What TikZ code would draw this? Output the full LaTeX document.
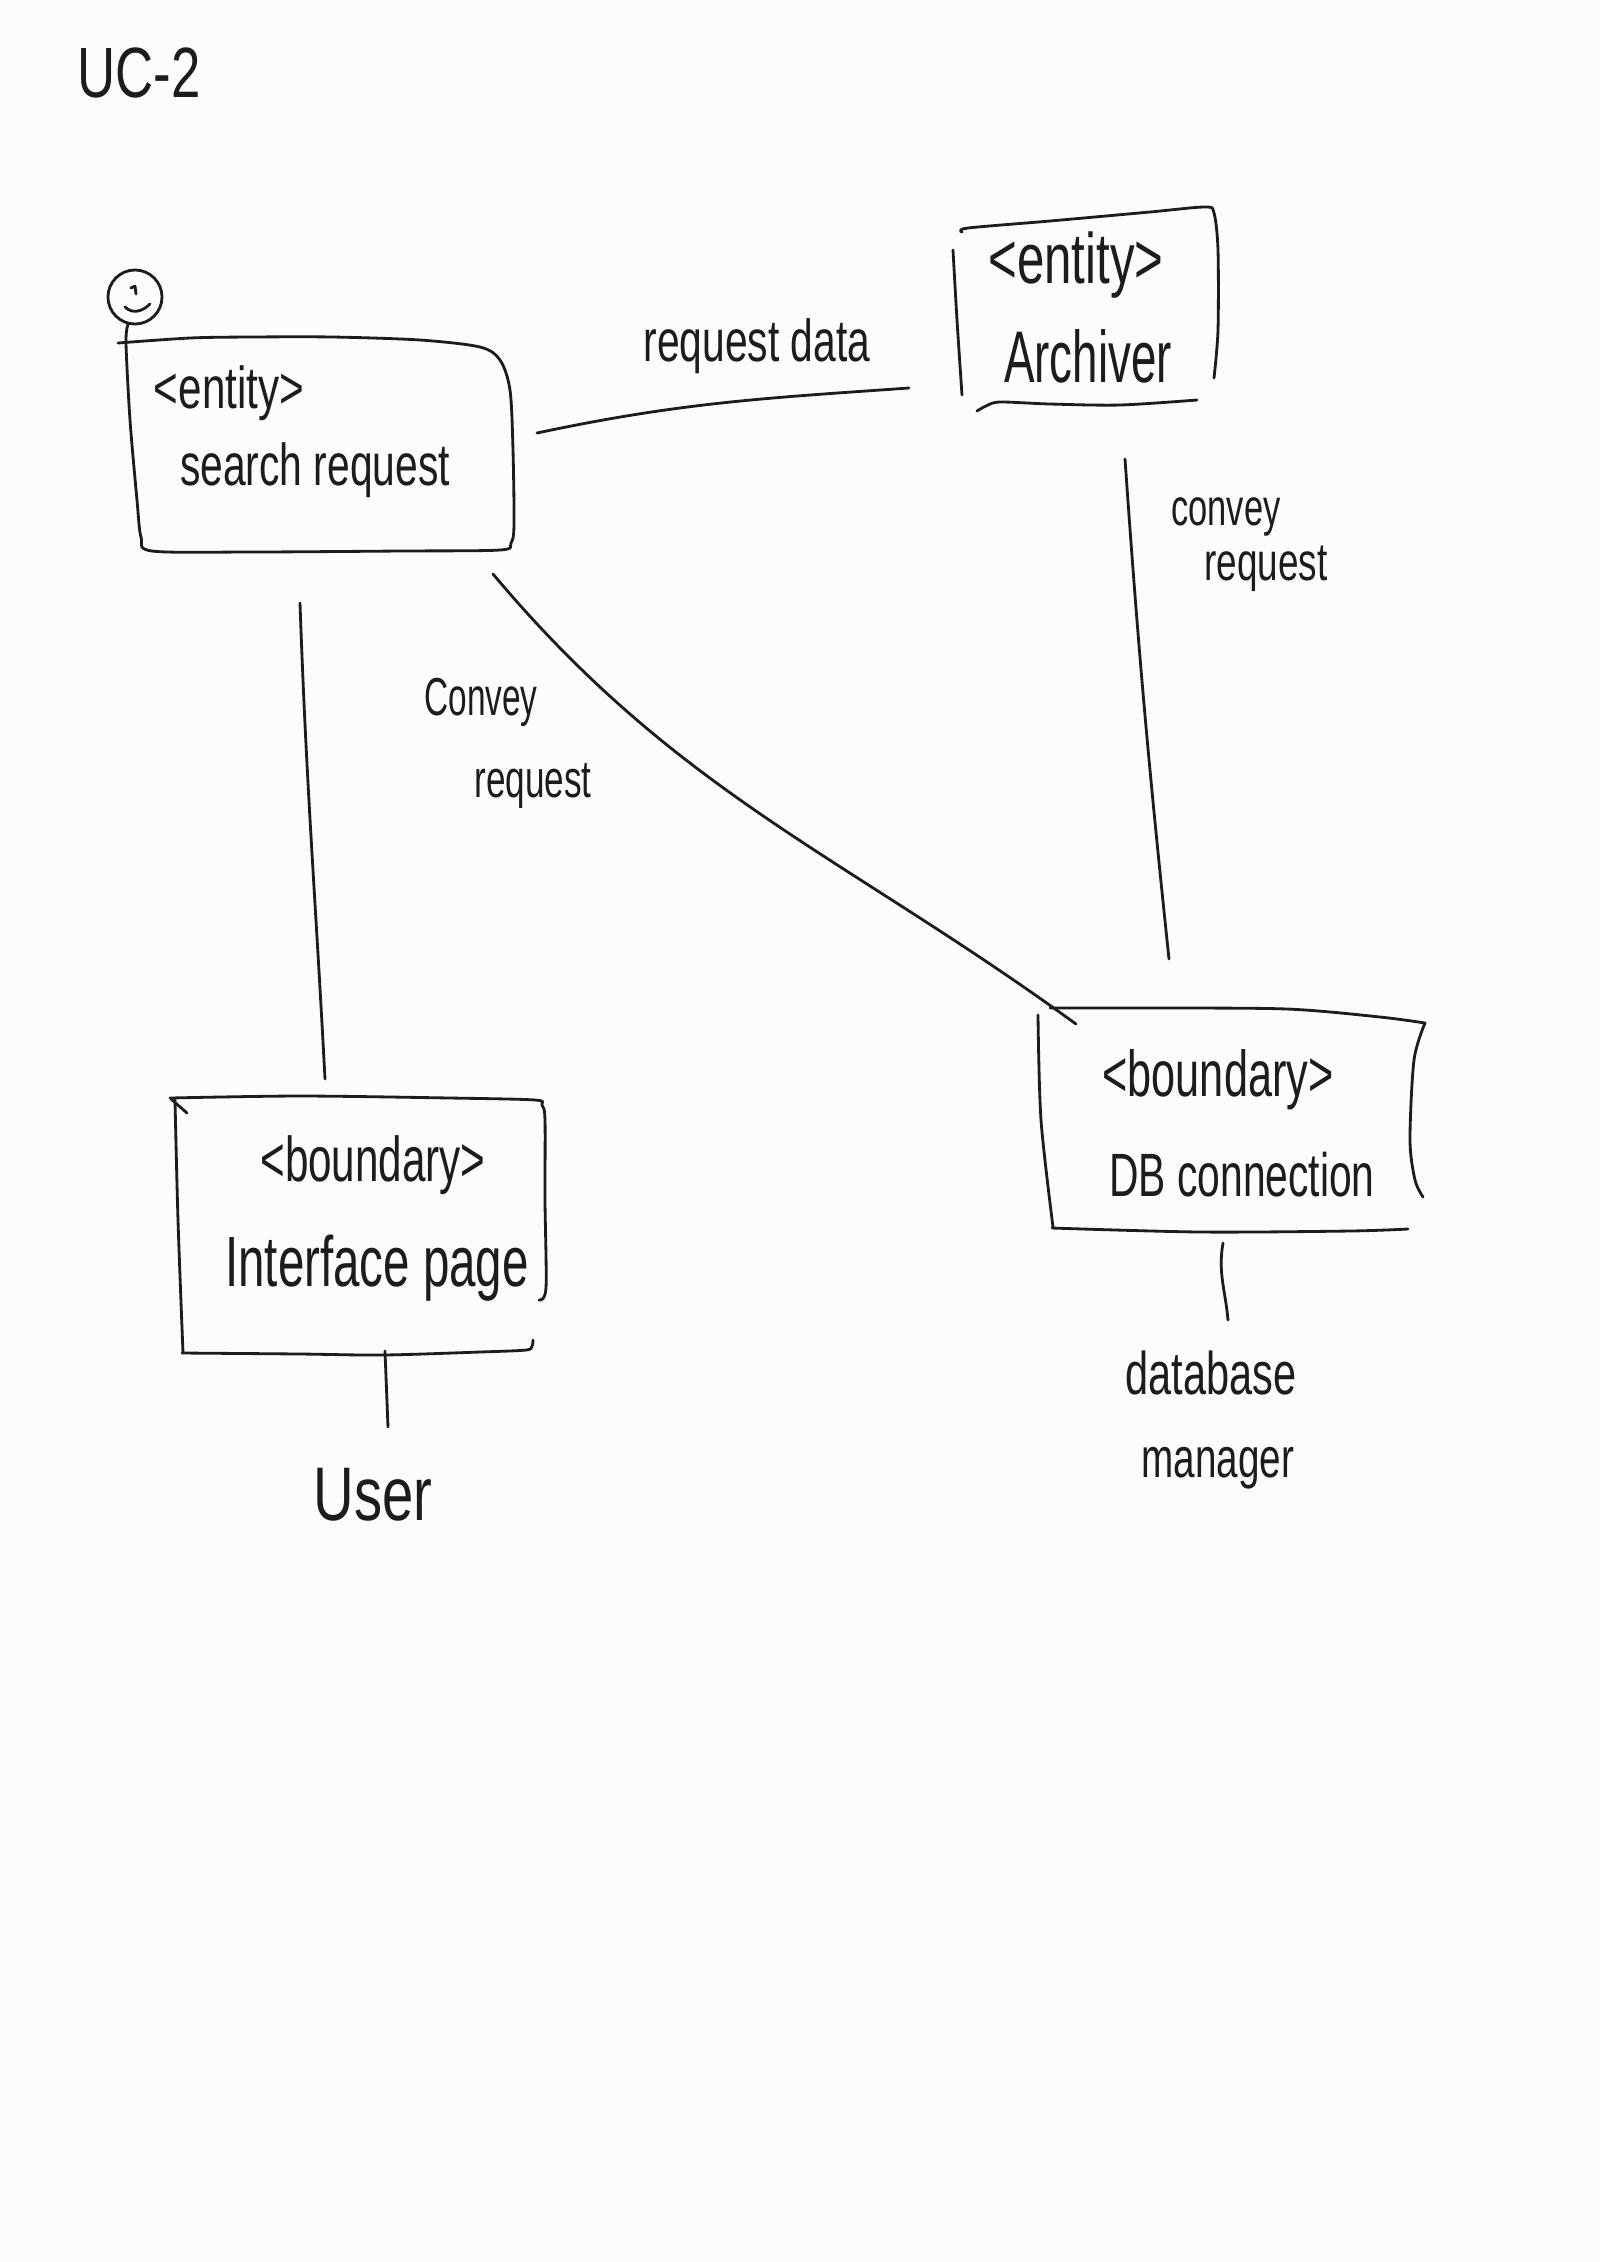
\documentclass[tikz,border=0pt]{standalone}
\usepackage{fontspec}
\setmainfont{Liberation Sans}
\usepackage{graphicx}
\definecolor{ink}{RGB}{28,28,28}
\definecolor{paper}{RGB}{252,252,252}
\newcommand{\hw}[3][1.4]{{\fontsize{#2}{#2}\selectfont\scalebox{1}[#1]{#3}}}
\begin{document}
\begin{tikzpicture}[x=0.01cm,y=-0.01cm,
  hand/.style={line width=0.8pt, draw=ink, line cap=round, line join=round},
  lbl/.style={inner sep=0pt, text=ink}]
\useasboundingbox (0,0) rectangle (1600,2262);
\fill[paper] (0,0) rectangle (1600,2262);

% title
\node[lbl] (uc) at (139,73) {\hw[1.35]{15}{UC-2}};

% ---------- search request (entity) ----------
\draw[hand] (135,297) circle[radius=0.27cm];
\draw[hand] (131,288) -- (135,286) -- (136,294);
\draw[hand] (125,307) .. controls (132,314) and (142,312) .. (150,304);
\draw[hand] plot[smooth] coordinates {(128,324) (126,343) (130,420) (137,500) (141,537) (152,551) (250,552) (400,551) (500,550) (511,543) (514,525) (513,450) (510,390) (500,360) (480,347) (420,340) (333,337) (250,337) (190,338) (118,343)};
\node[lbl] (srT) at (229,393) {\hw{12}{<entity>}};
\node[lbl] (srN) at (315,470) {\hw[1.45]{11.6}{search request}};

% ---------- Archiver (entity) ----------
\draw[hand] plot[smooth] coordinates {(953,250) (957,320) (962,395)};
\draw[hand] plot[smooth] coordinates {(962,232) (968,228) (1050,221) (1150,212) (1205,207) (1214,213) (1218,250) (1218,330) (1214,378)};
\draw[hand] plot[smooth] coordinates {(977,411) (986,406) (1000,402) (1050,404) (1120,405) (1197,400)};
\node[lbl] (arT) at (1076,265) {\hw[1.45]{14}{<entity>}};
\node[lbl] (arN) at (1088,356) {\hw[1.6]{13}{Archiver}};

% ---------- Interface page (boundary) ----------
\draw[hand] plot[smooth] coordinates {(170,1098) (300,1096) (450,1098) (535,1100) (542,1105) (545,1120) (545,1200) (546,1288) (539,1300)};
\draw[hand] (171,1099) -- (187,1113);
\draw[hand] plot[smooth] coordinates {(175,1100) (178,1220) (183,1353)};
\draw[hand] plot[smooth] coordinates {(182,1353) (300,1354) (383,1355) (480,1352) (526,1350) (532,1346) (533,1340)};
\node[lbl] (ifT) at (373,1165) {\hw[1.5]{12}{<boundary>}};
\node[lbl] (ifN) at (377,1268) {\hw[1.5]{13.5}{Interface page}};

% ---------- DB connection (boundary) ----------
\draw[hand] plot[smooth] coordinates {(1038,1015) (1041,1120) (1053,1227)};
\draw[hand] plot[smooth] coordinates {(1050,1008) (1150,1008) (1287,1009) (1380,1017) (1425,1023)};
\draw[hand] plot[smooth] coordinates {(1425,1023) (1414,1060) (1410,1140) (1415,1180) (1423,1197)};
\draw[hand] plot[smooth] coordinates {(1052,1228) (1200,1232) (1350,1231) (1408,1229)};
\node[lbl] (dbT) at (1218,1080) {\hw[1.5]{12.3}{<boundary>}};
\node[lbl] (dbN) at (1242,1175) {\hw[1.5]{11.6}{DB connection}};

% ---------- actors / labels ----------
\node[lbl] (usr) at (373,1495) {\hw[1.35]{16}{User}};
\node[lbl] (mgrA) at (1211,1373) {\hw[1.45]{11.8}{database}};
\node[lbl] (mgrB) at (1218,1468) {\hw[1.45]{11}{manager}};
\node[lbl] (rd) at (757,346) {\hw[1.45]{11.6}{request data}};
\node[lbl] (cvLa) at (481,702) {\hw[1.6]{9.5}{Convey}};
\node[lbl] (cvLb) at (533,786) {\hw[1.5]{10}{request}};
\node[lbl] (cvRa) at (1226,517) {\hw[1.5]{9.8}{convey}};
\node[lbl] (cvRb) at (1266,569) {\hw[1.45]{10.5}{request}};

% ---------- connector end points ----------
\coordinate (srE) at (537,433);
\coordinate (arW) at (909,388);
\coordinate (srS) at (300,603);
\coordinate (ifNt) at (325,1079);
\coordinate (srD) at (493,574);
\coordinate (dbD) at (1076,1024);
\coordinate (arS) at (1125,459);
\coordinate (dbNt) at (1169,959);
\coordinate (ifS) at (385,1351);
\coordinate (usrN) at (388,1427);
\coordinate (dbS) at (1223,1243);
\coordinate (mgrN) at (1228,1320);

% ---------- connectors ----------
\draw[hand] (srE) to[out=12,in=184] (arW);
\draw[hand] (srS) to[out=-88,in=93] (ifNt);
\draw[hand] (srD) to[out=-50,in=144] (dbD);
\draw[hand] (arS) to[out=-86,in=96] (dbNt);
\draw[hand] (ifS) -- (usrN);
\draw[hand] (dbS) to[out=-100,in=95] (mgrN);
\end{tikzpicture}
\end{document}
